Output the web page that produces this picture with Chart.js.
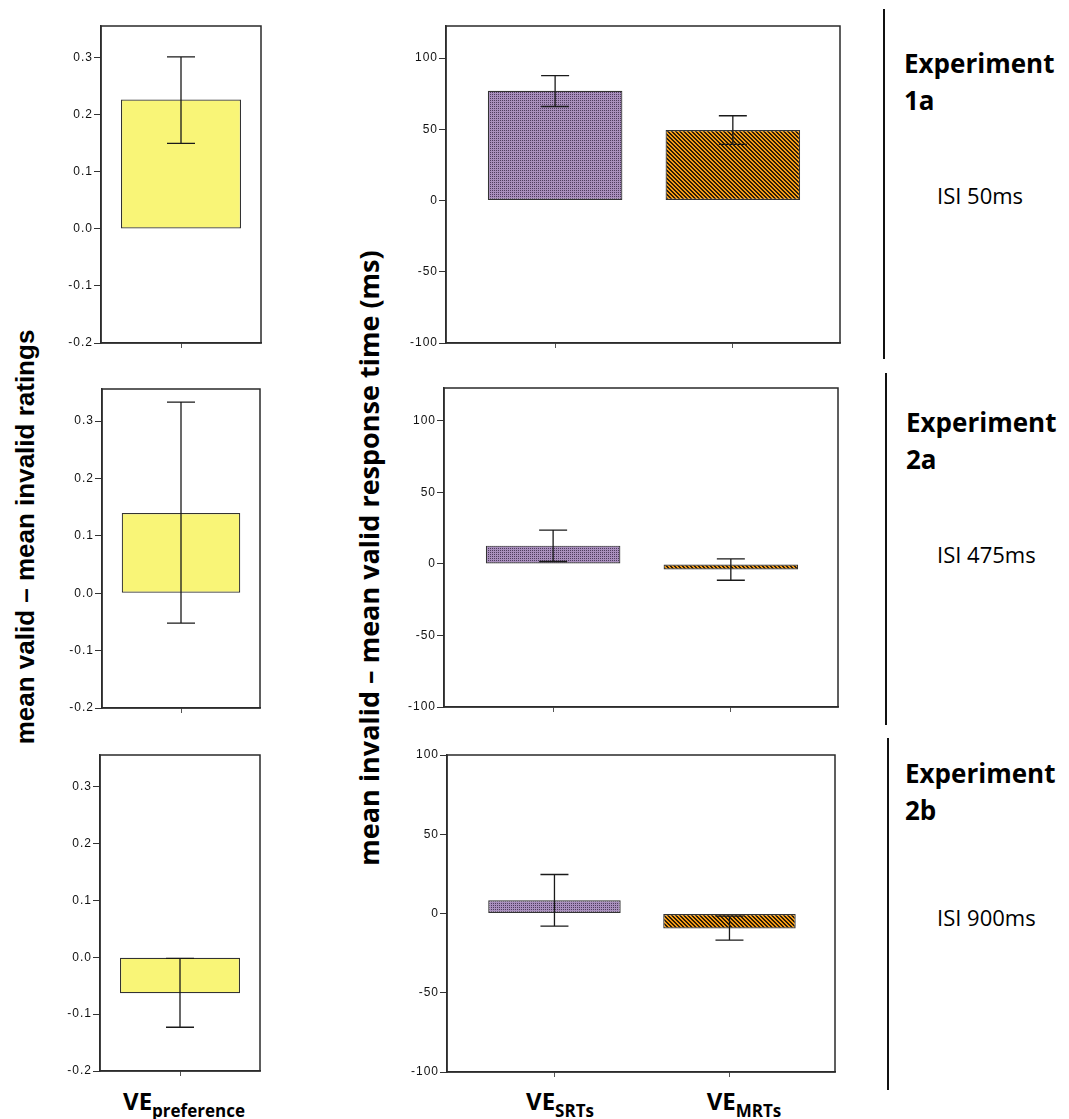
<!DOCTYPE html>
<html>
<head>
<meta charset="utf-8">
<script src="https://cdn.jsdelivr.net/npm/chart.js@4.4.0/dist/chart.umd.min.js"></script>
<style>
  body { margin: 0; background: #fff; width: 1069px; height: 1119px; position: relative; overflow: hidden; font-family: "Open Sans", sans-serif; color: #000; }
  canvas.panel { position: absolute; }
  .ytitle { position: absolute; white-space: nowrap; font-weight: bold; transform: translate(-50%, -50%) rotate(-90deg); }
  .xlab { position: absolute; transform: translateX(-50%); font-weight: bold; font-size: 24px; line-height: 30px; white-space: nowrap; }
  .xlab span { font-size: 17px; position: relative; top: 7px; }
  .exp { position: absolute; font-weight: bold; font-size: 26px; line-height: 37px; }
  .isi { position: absolute; font-size: 22px; line-height: 30px; }
  .vline { position: absolute; width: 2px; background: #111; }
</style>
</head>
<body>

<div class="ytitle" style="left:25px; top:537px; font-family:'Liberation Sans', Arial, sans-serif; font-size:26px;">mean valid – mean invalid ratings</div>
<div class="ytitle" style="left:368px; top:558px; font-size:27px;">mean invalid – mean valid response time (ms)</div>

<div class="xlab" style="left:184px; top:1086px;">VE<span>preference</span></div>
<div class="xlab" style="left:560px; top:1086px;">VE<span>SRTs</span></div>
<div class="xlab" style="left:744px; top:1086px;">VE<span>MRTs</span></div>

<div class="vline" style="left:883px; top:9px; height:350px;"></div>
<div class="vline" style="left:885px; top:373px; height:352px;"></div>
<div class="vline" style="left:887px; top:738px; height:352px;"></div>

<div class="exp" style="left:904px; top:45px;">Experiment<br>1a</div>
<div class="isi" style="left:937px; top:180px;">ISI 50ms</div>
<div class="exp" style="left:906px; top:404px;">Experiment<br>2a</div>
<div class="isi" style="left:937px; top:539px;">ISI 475ms</div>
<div class="exp" style="left:905px; top:755px;">Experiment<br>2b</div>
<div class="isi" style="left:937px; top:902px;">ISI 900ms</div>

<script>
// categories and tick labels
var prefLabels = ["VE preference"];
var rtPos = [1, 2];            // SRTs, MRTs
var ratingTicks = [-0.2, -0.1, 0, 0.1, 0.2, 0.3];
var rtTicks = [-100, -50, 0, 50, 100];

// ratings: experiment 1a, 2a, 2b
var prefMean = [0.227, 0.14, -0.063];
var prefLow  = [0.15, -0.052, -0.123];
var prefHigh = [0.302, 0.333, -0.002];
var prefMin = -0.2, prefMax = 0.356;

// response times: experiment 1a, 2a, 2b
var srtMean = [77, 12.8, 8.4];
var srtLow  = [66, 1.7, -8.0];
var srtHigh = [87.6, 23.7, 24.6];
var mrtMean = [49.5, -3.9, -9.5];
var mrtLow  = [39.4, -11.4, -16.8];
var mrtHigh = [59.5, 3.5, -1.6];
var rtMin = -100, rtMax = [122.5, 123, 100];

// plot boxes on the page
var leftBoxes  = [{l:101, r:261, t:26, b:343}, {l:102, r:260, t:389, b:708}, {l:100, r:260, t:755, b:1071}];
var rightBoxes = [{l:446, r:840, t:26, b:343}, {l:444, r:838, t:388, b:707}, {l:447, r:835, t:755, b:1072}];

function dotPattern() {
	var c = document.createElement('canvas');
	c.width = 2; c.height = 2;
	var g = c.getContext('2d');
	g.fillStyle = '#a98fbd';
	g.fillRect(0, 0, 2, 2);
	g.fillStyle = '#4f3c5e';
	g.fillRect(0, 0, 1, 1);
	return g.createPattern(c, 'repeat');
}

function stripePattern() {
	var c = document.createElement('canvas');
	c.width = 4; c.height = 4;
	var g = c.getContext('2d');
	for (var x = 0; x < 4; x++) {
		for (var y = 0; y < 4; y++) {
			var k = ((x - y) % 4 + 4) % 4;
			g.fillStyle = (k < 2) ? '#2e1c06' : '#f39b14';
			g.fillRect(x, y, 1, 1);
		}
	}
	return g.createPattern(c, 'repeat');
}

var errorBars = {
	id: 'errorBars',
	afterDatasetsDraw: function(chart) {
		var ctx = chart.ctx, ys = chart.scales.y;
		chart.data.datasets.forEach(function(ds, di) {
			chart.getDatasetMeta(di).data.forEach(function(bar, i) {
				var lo = ys.getPixelForValue(ds.errLow[i]);
				var hi = ys.getPixelForValue(ds.errHigh[i]);
				ctx.save();
				ctx.strokeStyle = '#1a1a1a';
				ctx.lineWidth = 1.3;
				ctx.beginPath();
				ctx.moveTo(bar.x, lo); ctx.lineTo(bar.x, hi);
				ctx.moveTo(bar.x - 14, lo); ctx.lineTo(bar.x + 14, lo);
				ctx.moveTo(bar.x - 14, hi); ctx.lineTo(bar.x + 14, hi);
				ctx.stroke();
				ctx.restore();
			});
		});
	}
};

var frame = {
	id: 'frame',
	beforeDraw: function(chart) {
		chart.ctx.letterSpacing = '1px';
	},
	afterDraw: function(chart) {
		var a = chart.chartArea, ctx = chart.ctx;
		ctx.save();
		ctx.strokeStyle = '#2a2a2a';
		ctx.lineWidth = 1.5;
		ctx.strokeRect(a.left, a.top, a.right - a.left, a.bottom - a.top);
		ctx.restore();
	}
};

function makeCanvas(box) {
	var cv = document.createElement('canvas');
	cv.className = 'panel';
	var w = (box.r - box.l) + 54, h = (box.b - box.t) + 32;
	cv.style.left = (box.l - 50) + 'px';
	cv.style.top = (box.t - 10) + 'px';
	cv.style.width = w + 'px';
	cv.style.height = h + 'px';
	cv.width = w; cv.height = h;
	document.body.appendChild(cv);
	return cv;
}

function yAxis(min, max, ticks, fmt) {
	return {
		min: min, max: max,
		afterFit: function(s) { s.width = 50; },
		afterBuildTicks: function(s) { s.ticks = ticks.map(function(v) { return {value: v}; }); },
		grid: { drawOnChartArea: false, drawTicks: true, tickLength: 7, color: '#333' },
		border: { display: true, color: '#333', width: 1.5 },
		ticks: {
			padding: 1, color: '#111',
			font: { family: "'Liberation Sans', Arial, sans-serif", size: 12 },
			callback: fmt
		}
	};
}

var common = {
	responsive: false,
	animation: false,
	layout: { padding: { top: 10, right: 4, left: 0, bottom: 0 } },
	plugins: { legend: { display: false }, tooltip: { enabled: false } }
};

for (var r = 0; r < 3; r++) {
	// ratings panel
	new Chart(makeCanvas(leftBoxes[r]), {
		type: 'bar',
		data: {
			labels: prefLabels,
			datasets: [{
				data: [prefMean[r]],
				errLow: [prefLow[r]], errHigh: [prefHigh[r]],
				backgroundColor: '#f9f577',
				borderColor: '#333',
				borderWidth: 1.2,
				borderSkipped: false,
				categoryPercentage: 1,
				barPercentage: 0.75
			}]
		},
		options: Object.assign({}, common, {
			scales: {
				x: {
					afterFit: function(s) { s.height = 22; },
					grid: { offset: false, drawOnChartArea: false, tickLength: 5, color: '#555' },
					border: { display: true, color: '#333', width: 1.5 },
					ticks: { display: false }
				},
				y: yAxis(prefMin, prefMax, ratingTicks, function(v) { return v.toFixed(1); })
			}
		}),
		plugins: [errorBars, frame]
	});

	// response time panel
	new Chart(makeCanvas(rightBoxes[r]), {
		type: 'bar',
		data: {
			datasets: [{
				data: [{x: rtPos[0], y: srtMean[r]}, {x: rtPos[1], y: mrtMean[r]}],
				errLow: [srtLow[r], mrtLow[r]], errHigh: [srtHigh[r], mrtHigh[r]],
				backgroundColor: [dotPattern(), stripePattern()],
				borderColor: '#333',
				borderWidth: 1.2,
				borderSkipped: false,
				categoryPercentage: 1,
				barPercentage: 0.757
			}]
		},
		options: Object.assign({}, common, {
			scales: {
				x: {
					type: 'linear',
					offset: false,
					min: 0.386, max: 2.603,
					afterFit: function(s) { s.height = 22; },
					afterBuildTicks: function(s) { s.ticks = rtPos.map(function(v) { return {value: v}; }); },
					grid: { offset: false, drawOnChartArea: false, tickLength: 5, color: '#555' },
					border: { display: true, color: '#333', width: 1.5 },
					ticks: { display: false }
				},
				y: yAxis(rtMin, rtMax[r], rtTicks, function(v) { return String(v); })
			}
		}),
		plugins: [errorBars, frame]
	});
}
</script>
</body>
</html>
